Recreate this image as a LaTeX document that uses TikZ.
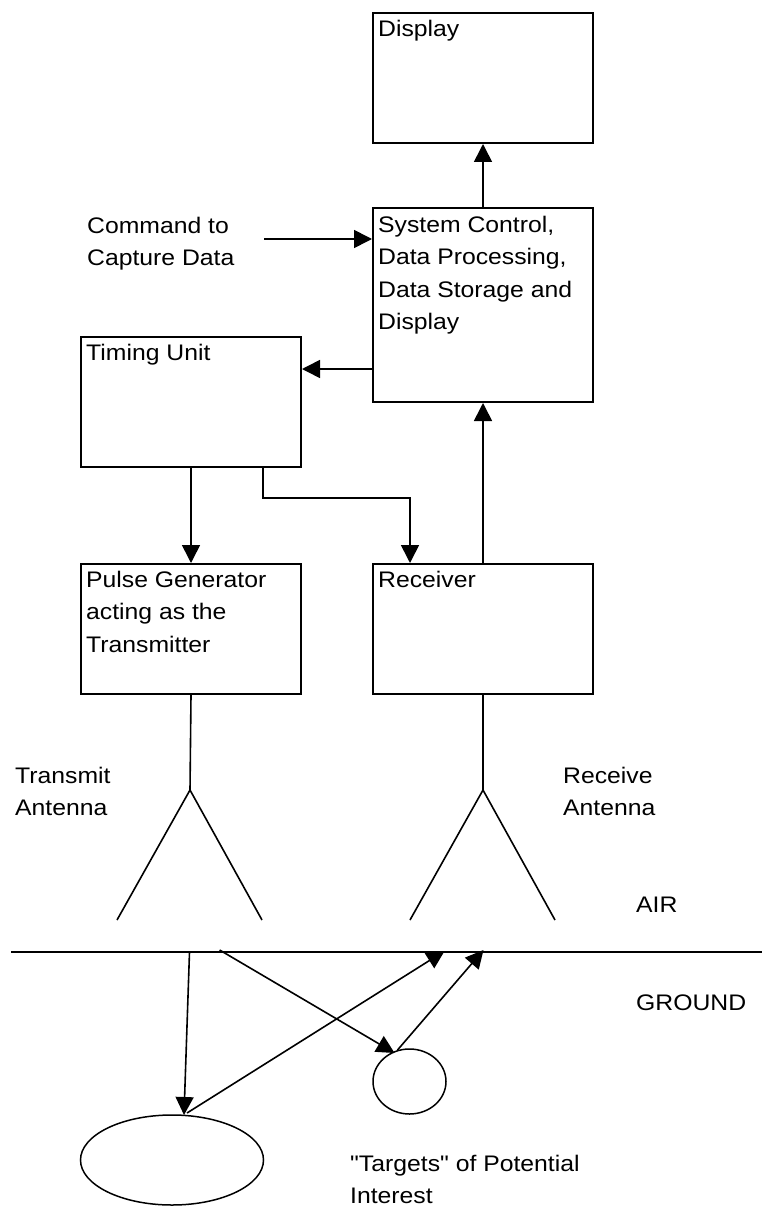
\documentclass[tikz,border=0pt]{standalone}
\usepackage{fontspec}
\setmainfont[FakeStretch=1.1,Ligatures=TeXOff]{Liberation Sans}
\usetikzlibrary{arrows.meta,shapes.geometric}
\newcommand{\mlines}[1]{\begin{tabular}[t]{@{}l@{}}#1\end{tabular}}
\begin{document}
\begin{tikzpicture}[x=1pt,y=-1pt,
  box/.style={draw, line width=2pt, anchor=north west, inner sep=0pt, minimum width=220pt},
  lbl/.style={anchor=base west, inner sep=0pt, font=\fontsize{22.5}{32.5}\selectfont},
  conn/.style={line width=1.6pt, -{Triangle[length=18pt,width=18pt]}},
  wire/.style={line width=1.6pt},
  target/.style={draw, ellipse, line width=1.5pt, inner sep=0pt}]
\useasboundingbox (0,0) rectangle (762,1209);
% boxes
\node[box, minimum height=130pt] (disp) at (372,12) {};
\node[box, minimum height=194pt] (sys) at (372,207) {};
\node[box, minimum height=130pt] (timing) at (80,336) {};
\node[box, minimum height=130pt] (pulse) at (80,563) {};
\node[box, minimum height=130pt] (recv) at (372,563) {};
% texts
\node[lbl] (tdisp) at (378,37) {Display};
\node[lbl] (tsys) at (378,232) {\mlines{System Control,\\Data Processing,\\Data Storage and\\Display}};
\node[lbl] (tcmd) at (87,233) {\mlines{Command to\\Capture Data}};
\node[lbl] (ttim) at (86,360) {Timing Unit};
\node[lbl] (tpulse) at (86,587) {\mlines{Pulse Generator\\acting as the\\Transmitter}};
\node[lbl] (trecv) at (378,587) {Receiver};
\node[lbl] (ttx) at (15,783) {\mlines{Transmit\\Antenna}};
\node[lbl] (trx) at (563,783) {\mlines{Receive\\Antenna}};
\node[lbl] (tair) at (636,912) {AIR};
\node[lbl] (tgnd) at (636,1010) {GROUND};
\node[lbl] (ttgt) at (350,1171) {\mlines{"Targets" of Potential\\Interest}};
% connectors between boxes
\draw[conn] (sys.north) -- (disp.south);
\coordinate (cmd) at (264,239);
\draw[conn] (cmd) -- (cmd -| sys.west);
\coordinate (s2t) at (372,369);
\draw[conn] (s2t) -- (s2t -| timing.east);
\draw[conn] (timing.south) -- (pulse.north);
\coordinate (tr) at (263,466);
\coordinate (ra) at (410,563);
\draw[conn] (tr) -- (tr |- 0,498) -| (ra);
\draw[conn] (recv.north) -- (sys.south);
% antennas
\coordinate (tap) at (190,790);
\coordinate (tl) at (117,920);
\coordinate (trr) at (262,920);
\draw[wire] (pulse.south) -- (tap);
\draw[wire] (tl) -- (tap) -- (trr);
\coordinate (rap) at (483,790);
\coordinate (rl) at (410,920);
\coordinate (rr) at (555,920);
\draw[wire] (recv.south) -- (rap);
\draw[wire] (rl) -- (rap) -- (rr);
% ground
\coordinate (gl) at (11,952);
\coordinate (gr) at (762,952);
\draw[line width=2pt] (gl) -- (gr);
% targets
\node[target, minimum width=183pt, minimum height=90pt] (big) at (172,1160) {};
\node[target, minimum width=73pt, minimum height=65pt] (small) at (409.5,1081.5) {};
% ray paths
\coordinate (a1s) at (189.5,952);
\coordinate (a1e) at (184,1115);
\draw[conn] (a1s) -- (a1e);
\coordinate (a2s) at (219.6,950);
\coordinate (a2e) at (394.6,1053);
\draw[conn] (a2s) -- (a2e);
\coordinate (a3s) at (187,1113);
\coordinate (a3e) at (444.6,951);
\draw[conn] (a3s) -- (a3e);
\coordinate (a4s) at (397.5,1050);
\coordinate (a4e) at (483.5,950);
\draw[conn] (a4s) -- (a4e);
\end{tikzpicture}
\end{document}
